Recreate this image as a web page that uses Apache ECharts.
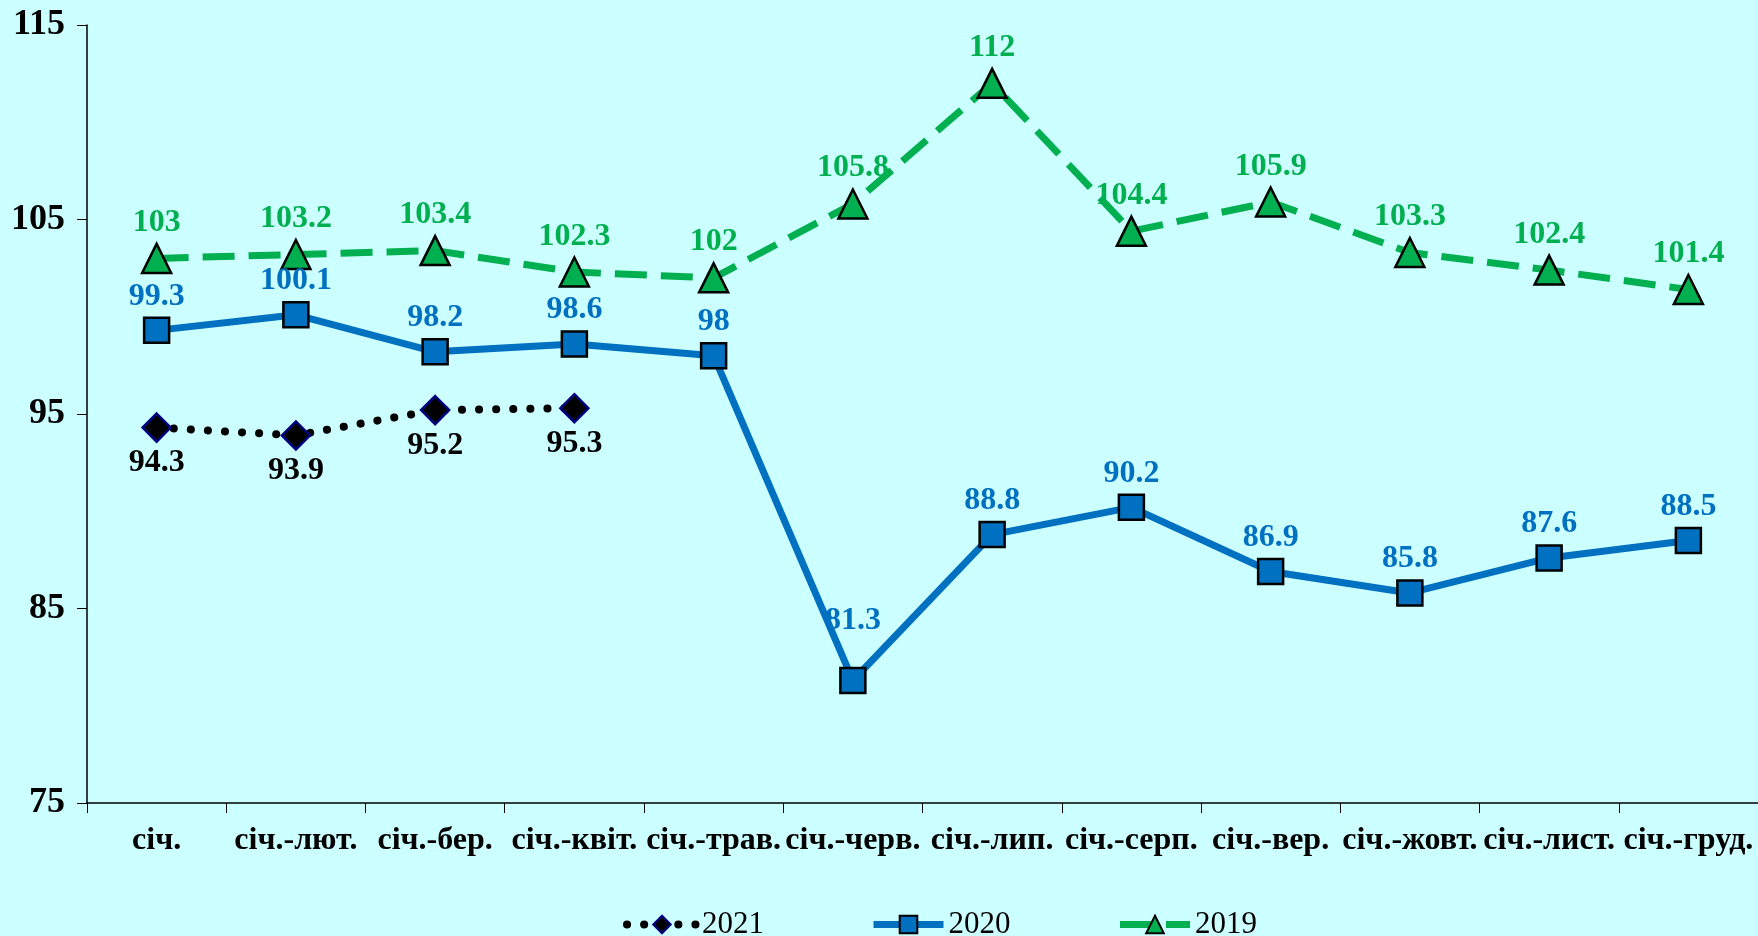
<!DOCTYPE html>
<html>
<head>
<meta charset="utf-8">
<script src="https://cdn.jsdelivr.net/npm/echarts@6/dist/echarts.min.js"></script>
<style>
html,body{margin:0;padding:0;background:#CCFFFF;}
#chart{width:1758px;height:936px;}
</style>
</head>
<body>
<div id="chart"></div>
<script>
const categories = ['січ.','січ.-лют.','січ.-бер.','січ.-квіт.','січ.-трав.','січ.-черв.','січ.-лип.','січ.-серп.','січ.-вер.','січ.-жовт.','січ.-лист.','січ.-груд.'];
const values2021 = [94.3, 93.9, 95.2, 95.3];
const values2020 = [99.3, 100.1, 98.2, 98.6, 98, 81.3, 88.8, 90.2, 86.9, 85.8, 87.6, 88.5];
const values2019 = [103, 103.2, 103.4, 102.3, 102, 105.8, 112, 104.4, 105.9, 103.3, 102.4, 101.4];
const yTicks = [75, 85, 95, 105, 115];

const FONT = '"Liberation Serif", "Times New Roman", serif';
const chart = echarts.init(document.getElementById('chart'));
chart.setOption({
  backgroundColor: '#CCFFFF',
  animation: false,
  grid: {left: 87, right: 0, top: 25, bottom: 133},
  legend: {
    top: 904, left: 618,
    itemWidth: 70, itemHeight: 22, itemGap: 106,
    lineStyle: {width: 'inherit', type: 'inherit'},
    textStyle: {fontFamily: FONT, fontSize: 31, color: '#000'},
    data: ['2021', '2020', '2019']
  },
  xAxis: {
    type: 'category',
    data: categories,
    boundaryGap: true,
    axisLine: {lineStyle: {color: '#000', width: 1.5}},
    axisTick: {show: true, length: 10, lineStyle: {color: '#000'}},
    axisLabel: {fontFamily: FONT, fontSize: 32, fontWeight: 'bold', color: '#000', margin: 22, interval: 0}
  },
  yAxis: {
    type: 'value',
    min: yTicks[0], max: yTicks[yTicks.length - 1], interval: 10,
    splitLine: {show: false},
    axisLine: {show: true, lineStyle: {color: '#000', width: 1.5}},
    axisTick: {show: true, length: 10, lineStyle: {color: '#000'}},
    axisLabel: {fontFamily: FONT, fontSize: 36, fontWeight: 'bold', color: '#000', margin: 22}
  },
  series: [
    {
      name: '2021', type: 'line', data: values2021,
      symbol: 'diamond', symbolSize: 28,
      itemStyle: {color: '#000', borderColor: '#000080', borderWidth: 2.5},
      lineStyle: {color: '#000', width: 8, type: [0.1, 17], cap: 'round'},
      label: {show: true, position: 'bottom', distance: 4, fontFamily: FONT, fontSize: 32, fontWeight: 'bold', color: '#000'},
      z: 4
    },
    {
      name: '2020', type: 'line',
      data: values2020.map((v, i) => i === 5 ? {value: v, label: {distance: 30}} : v),
      symbol: 'rect', symbolSize: 25,
      itemStyle: {color: '#0070C0', borderColor: '#000', borderWidth: 2.5},
      lineStyle: {color: '#0070C0', width: 7},
      label: {show: true, position: 'top', distance: 4, fontFamily: FONT, fontSize: 32, fontWeight: 'bold', color: '#0070C0'},
      z: 3
    },
    {
      name: '2019', type: 'line', data: values2019,
      symbol: 'triangle', symbolSize: 29,
      itemStyle: {color: '#00B050', borderColor: '#000', borderWidth: 2.5},
      lineStyle: {color: '#00B050', width: 7, type: [32, 14]},
      label: {show: true, position: 'top', distance: 4, fontFamily: FONT, fontSize: 32, fontWeight: 'bold', color: '#00B050'},
      z: 2
    }
  ]
});
</script>
</body>
</html>
